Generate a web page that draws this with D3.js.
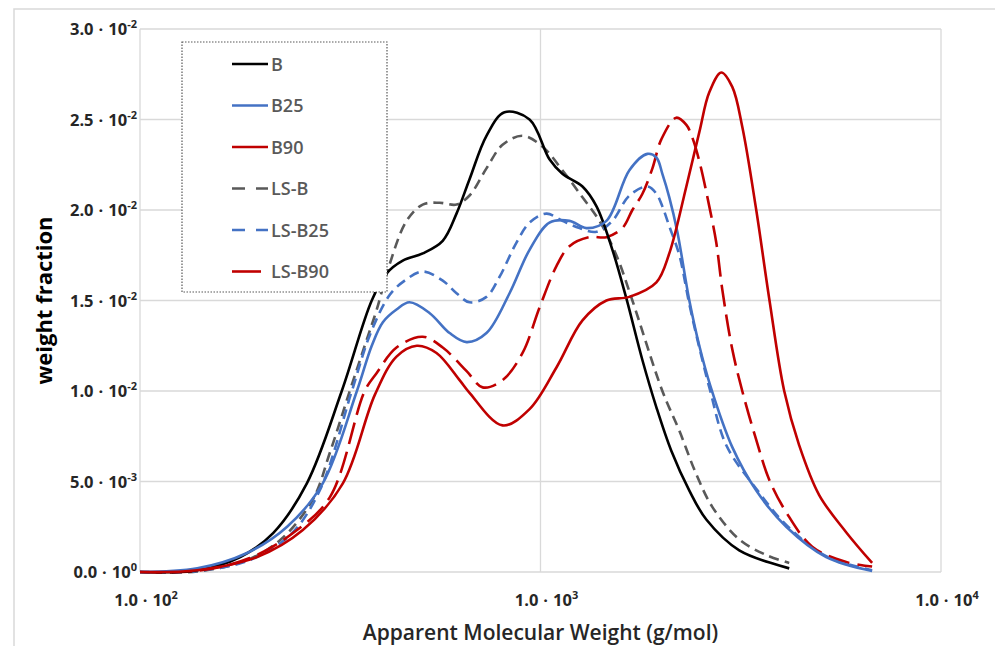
<!DOCTYPE html>
<html>
<head>
<meta charset="utf-8">
<script src="https://cdn.jsdelivr.net/npm/d3@7"></script>
<style>
  body { margin: 0; background: #fff; }
  svg text { font-family: "Open Sans", Lato, sans-serif; }
</style>
</head>
<body>
<div id="chart"></div>
<script>
// data: [molecular weight g/mol, weight fraction]
const B = [[100,0],[139,0.0001],[178,0.00083],[215,0.00215],[261,0.0049],[319,0.0100],[379,0.0150],[413,0.0165],[453,0.0172],[508,0.0176],[570,0.0183],[617,0.0198],[665,0.0217],[733,0.0241],[813,0.0254],[939,0.0250],[1053,0.0228],[1134,0.0220],[1273,0.0213],[1380,0.0202],[1512,0.0178],[1639,0.0151],[1797,0.0117],[1947,0.0091],[2121,0.0067],[2353,0.0045],[2594,0.0029],[3135,0.0012],[4179,0.0002]];
const B25 = [[100,0],[139,0.0002],[185,0.00105],[233,0.0025],[286,0.0049],[348,0.0100],[379,0.0125],[404,0.0138],[437,0.0145],[471,0.0149],[529,0.0143],[593,0.0132],[654,0.0127],[733,0.0132],[837,0.0154],[939,0.0178],[1053,0.0193],[1181,0.0194],[1302,0.0190],[1461,0.0194],[1667,0.0222],[1849,0.0231],[1947,0.0229],[2015,0.0220],[2097,0.0207],[2196,0.0188],[2353,0.0150],[2492,0.0125],[2654,0.0103],[3012,0.0069],[3457,0.0045],[4107,0.0025],[5167,0.00083],[6730,0.00006]];
const B90 = [[100,0],[139,0.0001],[196,0.00083],[255,0.00232],[321,0.0049],[386,0.0098],[437,0.0119],[491,0.0125],[550,0.0121],[628,0.0106],[665,0.0099],[804,0.0081],[939,0.0090],[1096,0.0113],[1273,0.0139],[1461,0.0150],[1667,0.0152],[1947,0.0160],[2097,0.0176],[2313,0.0213],[2492,0.0243],[2639,0.0265],[2828,0.0276],[3012,0.0268],[3190,0.0246],[3457,0.0200],[3725,0.0151],[4060,0.0100],[4425,0.0070],[4964,0.00425],[5796,0.0022],[6730,0.0005]];
const LSB = [[100,0],[139,0.00003],[185,0.00066],[224,0.00177],[270,0.0040],[298,0.0066],[334,0.0100],[364,0.0125],[390,0.0145],[420,0.0170],[463,0.0194],[508,0.0203],[560,0.0204],[617,0.0203],[665,0.0208],[733,0.0223],[804,0.0236],[902,0.0241],[1012,0.0235],[1134,0.0222],[1273,0.0207],[1403,0.0194],[1547,0.0175],[1696,0.0150],[2015,0.0100],[2222,0.0078],[2449,0.0054],[2685,0.0036],[3135,0.0018],[3660,0.00094],[4179,0.0005]];
const LSB25 = [[100,0],[139,0.00006],[188,0.00066],[237,0.00204],[281,0.0045],[338,0.0100],[375,0.0131],[420,0.0153],[458,0.0161],[508,0.0166],[570,0.0161],[617,0.0154],[665,0.0149],[733,0.0152],[790,0.0163],[871,0.0182],[939,0.0193],[1035,0.0198],[1134,0.0194],[1251,0.0190],[1380,0.0188],[1512,0.0194],[1667,0.0208],[1849,0.0213],[1947,0.0209],[2015,0.0202],[2097,0.0191],[2222,0.0175],[2353,0.0148],[2492,0.0124],[2654,0.0100],[2910,0.0070],[3457,0.0046],[4107,0.0026],[5167,0.00088],[6730,0.0001]];
const LSB90 = [[100,0],[139,0.00006],[188,0.00077],[241,0.00215],[298,0.00414],[364,0.0100],[390,0.0110],[437,0.0124],[508,0.0130],[570,0.0124],[654,0.0111],[717,0.0102],[804,0.0106],[902,0.0121],[994,0.0146],[1096,0.0169],[1181,0.0180],[1325,0.0185],[1461,0.0185],[1601,0.0190],[1696,0.0200],[1797,0.0209],[1903,0.0223],[2003,0.0239],[2183,0.0251],[2313,0.0247],[2394,0.0240],[2492,0.0227],[2639,0.0202],[2747,0.0182],[2844,0.0156],[3012,0.0123],[3190,0.0100],[3457,0.0073],[3725,0.0051],[4107,0.0033],[4769,0.0014],[5796,0.00055],[6730,0.0003]];

const seriesNames = ["B", "B25", "B90", "LS-B", "LS-B25", "LS-B90"];
const seriesData = [B, B25, B90, LSB, LSB25, LSB90];
const seriesColors = ["#000000", "#4472c4", "#c00000", "#595959", "#4472c4", "#c00000"];
const seriesDash = [null, null, null, "10,6", "10,6", "22,8"];

const yTicks = [0, 0.005, 0.01, 0.015, 0.02, 0.025, 0.03];
const yTickMant = ["0.0", "5.0", "1.0", "1.5", "2.0", "2.5", "3.0"];
const yTickExp = ["0", "-3", "-2", "-2", "-2", "-2", "-2"];
const xTicks = [100, 1000, 10000];
const xTickExp = ["2", "3", "4"];

const W = 995, H = 646;
const margin = {top: 29, right: 54, bottom: 74, left: 140};

const svg = d3.select("#chart").append("svg")
    .attr("width", W)
    .attr("height", H);

// outer chart frame
svg.append("rect")
    .attr("x", 14).attr("y", 9)
    .attr("width", W + 10).attr("height", H + 10)
    .attr("fill", "none")
    .attr("stroke", "#d9d9d9")
    .attr("stroke-width", 1.5);

const x = d3.scaleLog()
    .domain([100, 10000])
    .range([margin.left, W - margin.right]);
const y = d3.scaleLinear()
    .domain([0, 0.03])
    .range([H - margin.bottom, margin.top]);

// grid
svg.append("g").selectAll("line").data(yTicks).enter().append("line")
    .attr("x1", margin.left).attr("x2", W - margin.right)
    .attr("y1", d => y(d)).attr("y2", d => y(d))
    .attr("stroke", "#d9d9d9").attr("stroke-width", 1.3);
svg.append("g").selectAll("line").data(xTicks).enter().append("line")
    .attr("x1", d => x(d)).attr("x2", d => x(d))
    .attr("y1", y(0)).attr("y2", y(0.03))
    .attr("stroke", "#d9d9d9").attr("stroke-width", 1.3);

// tick label: mantissa · 10^exp
function tickLabel(sel, mant, exp) {
    sel.append("tspan").text(mant);
    sel.append("tspan").attr("dx", 5).text("\u00b7");
    sel.append("tspan").attr("dx", 5).text("10");
    sel.append("tspan").attr("font-size", 11).attr("dy", -7).text(exp);
}

const yl = svg.append("g").selectAll("text").data(yTicks).enter().append("text")
    .attr("x", margin.left - 3)
    .attr("y", d => y(d) + 6)
    .attr("text-anchor", "end")
    .attr("font-size", 16.5)
    .attr("font-weight", "bold")
    .attr("fill", "#262626");
yl.each(function(d, i) { tickLabel(d3.select(this), yTickMant[i], yTickExp[i]); });

const xl = svg.append("g").selectAll("text").data(xTicks).enter().append("text")
    .attr("x", d => x(d) + 6)
    .attr("y", 606)
    .attr("text-anchor", "middle")
    .attr("font-size", 16.5)
    .attr("font-weight", "bold")
    .attr("fill", "#262626");
xl.each(function(d, i) { tickLabel(d3.select(this), "1.0", xTickExp[i]); });

// axis titles
svg.append("text")
    .attr("x", x(1000))
    .attr("y", 640)
    .attr("text-anchor", "middle")
    .attr("font-size", 21)
    .attr("font-weight", 600)
    .attr("fill", "#262626")
    .text("Apparent Molecular Weight (g/mol)");
svg.append("text")
    .attr("transform", "translate(52," + y(0.015) + ") rotate(-90)")
    .attr("text-anchor", "middle")
    .attr("font-size", 22)
    .attr("font-weight", "bold")
    .attr("fill", "#000")
    .text("weight fraction");

// curves
const line = d3.line()
    .x(d => x(d[0]))
    .y(d => y(d[1]))
    .curve(d3.curveCatmullRom.alpha(0.5));

const order = [3, 4, 5, 0, 1, 2];
order.forEach(i => {
    svg.append("path")
        .datum(seriesData[i])
        .attr("d", line)
        .attr("fill", "none")
        .attr("stroke", seriesColors[i])
        .attr("stroke-width", 2.6)
        .attr("stroke-dasharray", seriesDash[i]);
});

// legend
const lg = svg.append("g");
lg.append("rect")
    .attr("x", 182).attr("y", 42)
    .attr("width", 205).attr("height", 250)
    .attr("fill", "#fff")
    .attr("stroke", "#595959")
    .attr("stroke-width", 1.2)
    .attr("stroke-dasharray", "1.5,1.5");

const legendItems = lg.selectAll("g.item").data(seriesNames).enter().append("g")
    .attr("transform", (d, i) => "translate(0," + (64 + i * 41.5) + ")");
legendItems.append("line")
    .attr("x1", 232).attr("x2", (d, i) => i == 5 ? 261 : 268)
    .attr("y1", 0).attr("y2", 0)
    .attr("stroke", (d, i) => seriesColors[i])
    .attr("stroke-width", 2.6)
    .attr("stroke-dasharray", (d, i) => i == 3 || i == 4 ? "13,11" : null);
legendItems.append("text")
    .attr("x", 271)
    .attr("y", 6.5)
    .attr("font-size", 18)
    .attr("font-weight", 600)
    .attr("fill", "#595959")
    .text(d => d);
</script>
</body>
</html>
